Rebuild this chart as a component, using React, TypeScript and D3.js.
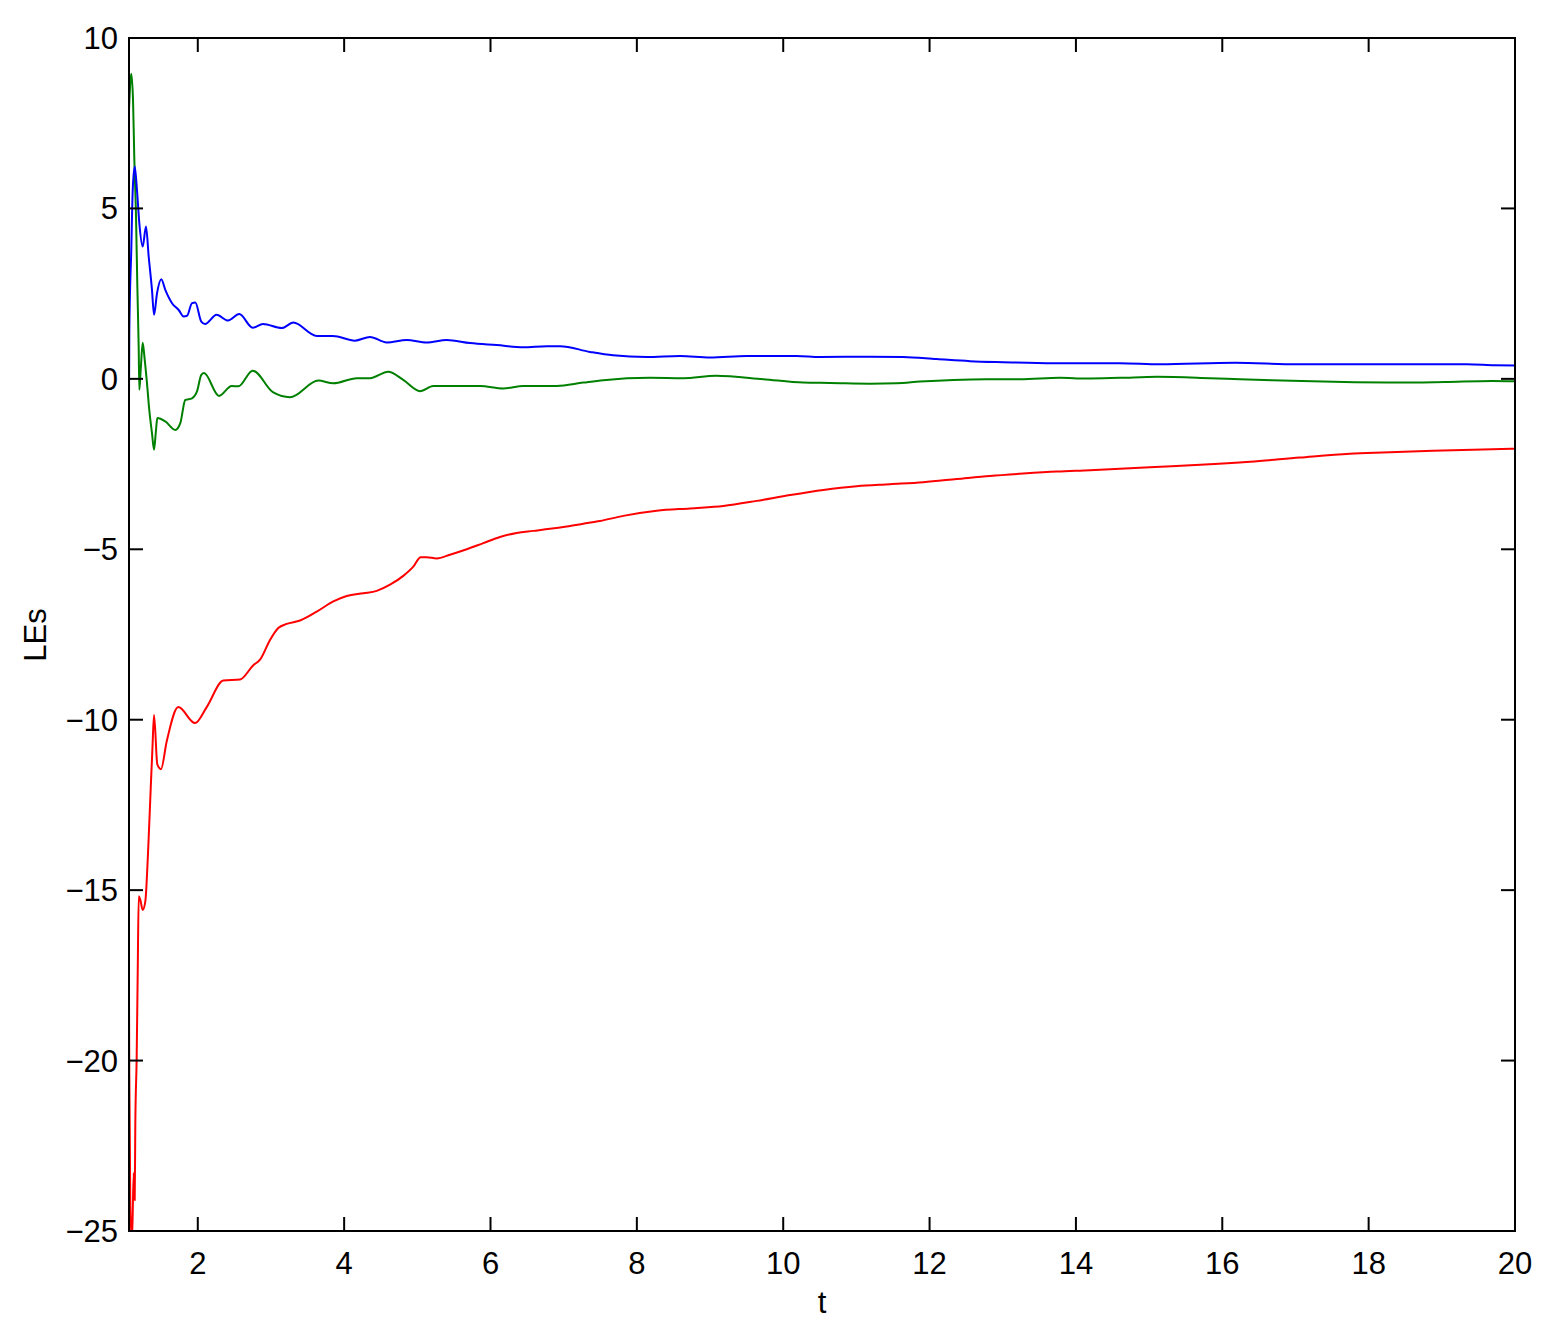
import React from "react";
import * as d3 from "d3";

const blueT = [1.06,1.064,1.091,1.111,1.138,1.169,1.201,1.247,1.292,1.329,1.374,1.402,1.443,1.501,1.556,1.648,1.739,1.807,1.853,1.921,1.966,2.048,2.099,2.258,2.413,2.567,2.75,2.891,3.147,3.305,3.625,3.848,4.148,4.353,4.581,4.855,5.128,5.401,5.72,6.085,6.448,6.768,6.95,7.36,7.674,8.134,8.589,8.999,9.501,10.184,10.5,11.185,11.641,12.097,12.552,13.007,13.69,14.602,15.15,16.17,17.02,18.42,19.34,19.72,20];
const blueV = [-0.57,1.35,3.78,5.54,6.23,5.54,4.57,3.88,4.47,3.59,2.61,1.88,2.51,2.92,2.61,2.22,2.02,1.83,1.85,2.22,2.24,1.68,1.61,1.88,1.71,1.9,1.5,1.61,1.49,1.65,1.26,1.26,1.12,1.23,1.07,1.14,1.07,1.14,1.05,0.99,0.93,0.96,0.96,0.79,0.69,0.64,0.67,0.63,0.67,0.67,0.64,0.65,0.64,0.58,0.52,0.49,0.46,0.46,0.43,0.47,0.43,0.43,0.43,0.4,0.39];

const greenT = [1.06,1.091,1.115,1.132,1.156,1.173,1.193,1.201,1.22,1.247,1.275,1.306,1.337,1.374,1.402,1.429,1.447,1.556,1.693,1.761,1.829,1.921,1.989,2.048,2.085,2.29,2.463,2.554,2.75,3.032,3.26,3.647,3.852,4.172,4.353,4.603,4.808,5.037,5.218,5.856,6.175,6.448,6.904,7.268,7.541,8.179,8.634,9.08,9.728,10.274,10.64,11.185,11.55,11.869,12.324,12.78,13.235,13.782,14.147,14.602,15.11,15.83,16.24,16.68,17.23,17.81,18.42,19.04,19.69,20];
const greenV = [7.89,8.95,8.18,6.52,4.76,2.81,0.85,-0.32,0.26,1.06,0.56,-0.13,-0.91,-1.59,-2.08,-1.5,-1.15,-1.25,-1.5,-1.3,-0.62,-0.57,-0.37,0.12,0.17,-0.5,-0.21,-0.22,0.24,-0.4,-0.54,-0.05,-0.13,0.02,0.02,0.21,-0.03,-0.36,-0.21,-0.21,-0.28,-0.21,-0.21,-0.11,-0.04,0.03,0.02,0.09,-0.01,-0.11,-0.12,-0.14,-0.13,-0.08,-0.03,-0.01,-0.01,0.03,0.01,0.03,0.06,0.02,-0.01,-0.04,-0.07,-0.1,-0.11,-0.09,-0.06,-0.07];

const redT = [1.06,1.064,1.078,1.101,1.124,1.138,1.146,1.165,1.179,1.193,1.214,1.247,1.283,1.32,1.357,1.381,1.402,1.447,1.497,1.575,1.734,1.962,2.122,2.349,2.577,2.759,2.85,2.987,3.1,3.215,3.397,3.625,3.852,4.035,4.262,4.445,4.627,4.808,4.945,5.046,5.128,5.265,5.446,5.675,5.902,6.13,6.358,6.585,6.813,7.041,7.268,7.496,7.815,8.271,8.726,9.181,9.638,10.093,10.548,11.004,11.459,11.914,12.371,12.826,13.281,13.737,14.192,15.01,15.7,16.38,17.06,17.74,18.19,18.88,19.56,20];
const redV = [-18.12,-20.36,-24.28,-25.3,-23.3,-24.1,-21.93,-19.88,-17.43,-15.18,-15.28,-15.58,-15.33,-13.91,-12.0,-10.8,-9.86,-11.31,-11.45,-10.64,-9.63,-10.1,-9.63,-8.85,-8.82,-8.4,-8.24,-7.66,-7.31,-7.19,-7.09,-6.83,-6.53,-6.37,-6.29,-6.22,-6.04,-5.78,-5.51,-5.23,-5.23,-5.27,-5.16,-5.0,-4.82,-4.64,-4.52,-4.46,-4.4,-4.33,-4.25,-4.17,-4.02,-3.87,-3.8,-3.73,-3.58,-3.41,-3.26,-3.15,-3.09,-3.03,-2.94,-2.85,-2.78,-2.72,-2.68,-2.59,-2.52,-2.43,-2.31,-2.2,-2.16,-2.11,-2.07,-2.05];

const xTicks = [2,4,6,8,10,12,14,16,18,20];
const yTicks = [-25,-20,-15,-10,-5,0,5,10];

const W = 1549, H = 1341;
const L = 129, R = 1515, T = 38, B = 1231;
const FONT = "'Liberation Sans', Arial, Helvetica, sans-serif";

export default function App() {
  const x = d3.scaleLinear().domain([1.06, 20]).range([L, R]);
  const y = d3.scaleLinear().domain([-25, 10]).range([B, T]);
  const line = d3.line<[number, number]>().x(d => x(d[0])).y(d => y(d[1])).curve(d3.curveMonotoneX);
  const series = [
    { t: redT, v: redV, c: "#ff0000" },
    { t: greenT, v: greenV, c: "#008000" },
    { t: blueT, v: blueV, c: "#0000ff" },
  ];
  const tl = 14;
  return (
    <svg width={W} height={H} style={{ position: "absolute", left: 0, top: 0, background: "#fff" }} fontFamily={FONT}>
      <rect x={0} y={0} width={W} height={H} fill="#fff" />
      <defs>
        <clipPath id="plot"><rect x={L} y={T} width={R - L} height={B - T} /></clipPath>
      </defs>
      <g clipPath="url(#plot)">
        {series.map((s, i) => (
          <path key={i} d={line(s.t.map((t, j) => [t, s.v[j]] as [number, number])) || ""} fill="none" stroke={s.c} strokeWidth={2} strokeLinejoin="round" />
        ))}
      </g>
      <rect x={L} y={T} width={R - L} height={B - T} fill="none" stroke="#000" strokeWidth={2} />
      {xTicks.map(t => (
        <g key={"x" + t}>
          <line x1={x(t)} x2={x(t)} y1={B} y2={B - tl} stroke="#000" strokeWidth={2} />
          <line x1={x(t)} x2={x(t)} y1={T} y2={T + tl} stroke="#000" strokeWidth={2} />
          <text x={x(t)} y={1274} textAnchor="middle" fontSize={31} fill="#000">{t}</text>
        </g>
      ))}
      {yTicks.map(v => (
        <g key={"y" + v}>
          <line x1={L} x2={L + tl} y1={y(v)} y2={y(v)} stroke="#000" strokeWidth={2} />
          <line x1={R} x2={R - tl} y1={y(v)} y2={y(v)} stroke="#000" strokeWidth={2} />
          <text x={118} y={y(v) + 11} textAnchor="end" fontSize={31} fill="#000">{v < 0 ? "\u2212" + Math.abs(v) : v}</text>
        </g>
      ))}
      <text x={(L + R) / 2} y={1313} textAnchor="middle" fontSize={31} fill="#000">t</text>
      <text transform={`translate(46,635) rotate(-90)`} textAnchor="middle" fontSize={31} fill="#000">LEs</text>
    </svg>
  );
}
